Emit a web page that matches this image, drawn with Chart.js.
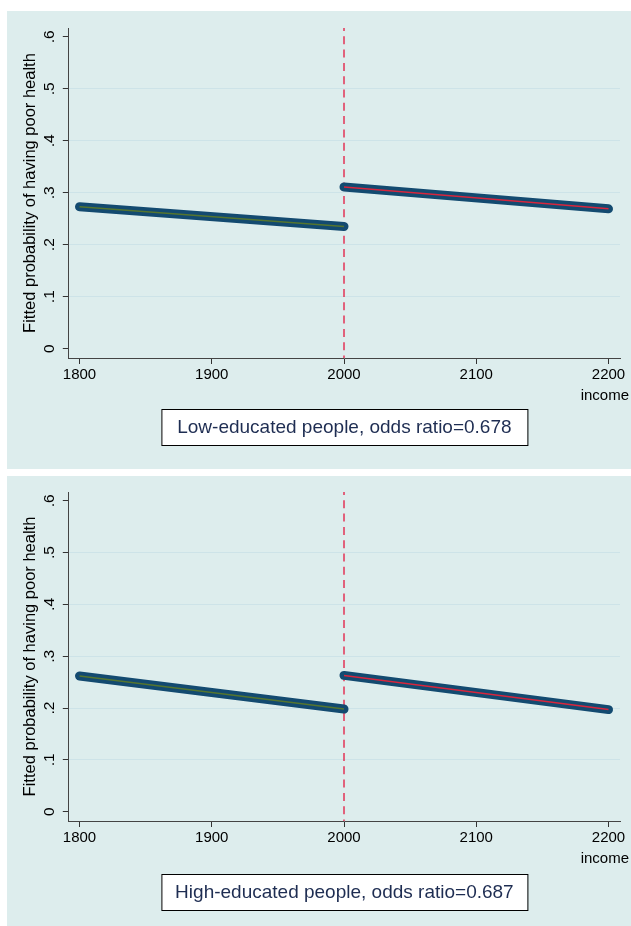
<!DOCTYPE html>
<html>
<head>
<meta charset="utf-8">
<script src="https://cdn.jsdelivr.net/npm/chart.js@4.4.1/dist/chart.umd.min.js"></script>
<style>
  body { margin: 0; background: #fff; width: 631px; height: 926px; position: relative; overflow: hidden; }
  .panel { position: absolute; left: 7px; width: 624px; background: #ddeded; }
  #p1 { top: 11px; height: 458px; }
  #p2 { top: 476px; height: 450px; }
  canvas { display: block; }
</style>
</head>
<body>
<div class="panel" id="p1"><canvas id="c1" width="624" height="458"></canvas></div>
<div class="panel" id="p2"><canvas id="c2" width="624" height="450"></canvas></div>
<script>
var incomeTicks = [1800, 1900, 2000, 2100, 2200];
var probTicks = [0, 0.1, 0.2, 0.3, 0.4, 0.5, 0.6];
var probLabels = ['0', '.1', '.2', '.3', '.4', '.5', '.6'];
var cutoff = 2000;

// fitted probabilities at the ends of each side of the cutoff
var belowIncome = [1800, 2000];
var aboveIncome = [2000, 2200];
var lowBelow = [0.273, 0.235];
var lowAbove = [0.311, 0.269];
var highBelow = [0.262, 0.198];
var highAbove = [0.263, 0.197];

var notes = ['Low-educated people, odds ratio=0.678', 'High-educated people, odds ratio=0.687'];

var FONT = '"Liberation Sans", Arial, sans-serif';
Chart.defaults.font.family = FONT;

function pts(xs, ys) {
  return xs.map(function (x, i) { return { x: x, y: ys[i] }; });
}

// cutoff line, rotated y labels, x title and the note box
var decor = {
  id: 'decor',
  beforeDatasetsDraw: function (chart) {
    var a = chart.chartArea, c = chart.ctx;
    var x = chart.scales.x.getPixelForValue(cutoff);
    c.save();
    c.strokeStyle = '#e4173f';
    c.lineWidth = 1.3;
    c.setLineDash([8, 5.3]);
    c.lineDashOffset = 5;
    c.beginPath();
    c.moveTo(x, a.top);
    c.lineTo(x, a.bottom);
    c.stroke();
    c.restore();
  },
  afterDraw: function (chart, args, opts) {
    var c = chart.ctx, a = chart.chartArea, ys = chart.scales.y;
    c.save();
    c.fillStyle = '#000';
    c.font = '15.5px ' + FONT;
    c.textAlign = 'center';
    c.textBaseline = 'alphabetic';
    probTicks.forEach(function (v, i) {
      c.save();
      c.translate(a.left - 15, ys.getPixelForValue(v));
      c.rotate(-Math.PI / 2);
      c.fillText(probLabels[i], 0, 0);
      c.restore();
    });
    c.font = '15px ' + FONT;
    c.textAlign = 'right';
    c.fillText('income', chart.width - 2, a.bottom + 42);

    var cx = (a.left + a.right) / 2, top = a.bottom + opts.boxGap;
    c.fillStyle = '#fff';
    c.fillRect(cx - 183, top, 366, 36);
    c.strokeStyle = '#000';
    c.lineWidth = 1;
    c.strokeRect(cx - 183 + 0.5, top + 0.5, 366, 36);
    c.fillStyle = '#1e2d52';
    c.font = '19px ' + FONT;
    c.textAlign = 'center';
    c.textBaseline = 'middle';
    c.fillText(opts.note, cx, top + 18.5);
    c.restore();
  }
};

function makePanel(id, below, above, note, pad, boxGap) {
  return new Chart(document.getElementById(id), {
    type: 'line',
    data: {
      datasets: [
        { data: pts(belowIncome, below), borderColor: '#55752f', borderWidth: 1.5, pointRadius: 0 },
        { data: pts(aboveIncome, above), borderColor: '#d7263d', borderWidth: 1.5, pointRadius: 0 },
        { data: pts(belowIncome, below), borderColor: '#134a70', borderWidth: 9, borderCapStyle: 'round', pointRadius: 0 },
        { data: pts(aboveIncome, above), borderColor: '#134a70', borderWidth: 9, borderCapStyle: 'round', pointRadius: 0 }
      ]
    },
    options: {
      responsive: false,
      animation: false,
      layout: { padding: pad },
      plugins: {
        legend: { display: false },
        tooltip: { enabled: false },
        decor: { note: note, boxGap: boxGap }
      },
      scales: {
        x: {
          type: 'linear',
          min: 1791.9,
          max: 2208.7,
          afterBuildTicks: function (s) { s.ticks = incomeTicks.map(function (v) { return { value: v }; }); },
          ticks: {
            color: '#000', font: { size: 15 }, padding: 2, maxRotation: 0, autoSkip: false,
            callback: function (v) { return String(v); }
          },
          grid: { drawOnChartArea: false, tickLength: 6, tickColor: '#333' },
          border: { color: '#444', width: 1 }
        },
        y: {
          type: 'linear',
          min: -0.018,
          max: 0.617,
          afterBuildTicks: function (s) { s.ticks = probTicks.map(function (v) { return { value: v }; }); },
          ticks: { display: false },
          grid: {
            color: function (ctx) {
              var v = ctx.tick ? ctx.tick.value : null;
              return (v === 0 || v === 0.6) ? 'rgba(0,0,0,0)' : '#cde3e8';
            },
            lineWidth: 1, tickLength: 6, tickColor: '#333'
          },
          border: { color: '#444', width: 1 },
          title: {
            display: true, text: 'Fitted probability of having poor health', color: '#000',
            font: { size: 16.5 }, padding: { top: 6, bottom: 22 }
          }
        }
      }
    },
    plugins: [decor]
  });
}

makePanel('c1', lowBelow, lowAbove, notes[0], { left: 8, top: 17, right: 11, bottom: 83 }, 51);
makePanel('c2', highBelow, highAbove, notes[1], { left: 8, top: 16, right: 11, bottom: 77 }, 53);
</script>
</body>
</html>
